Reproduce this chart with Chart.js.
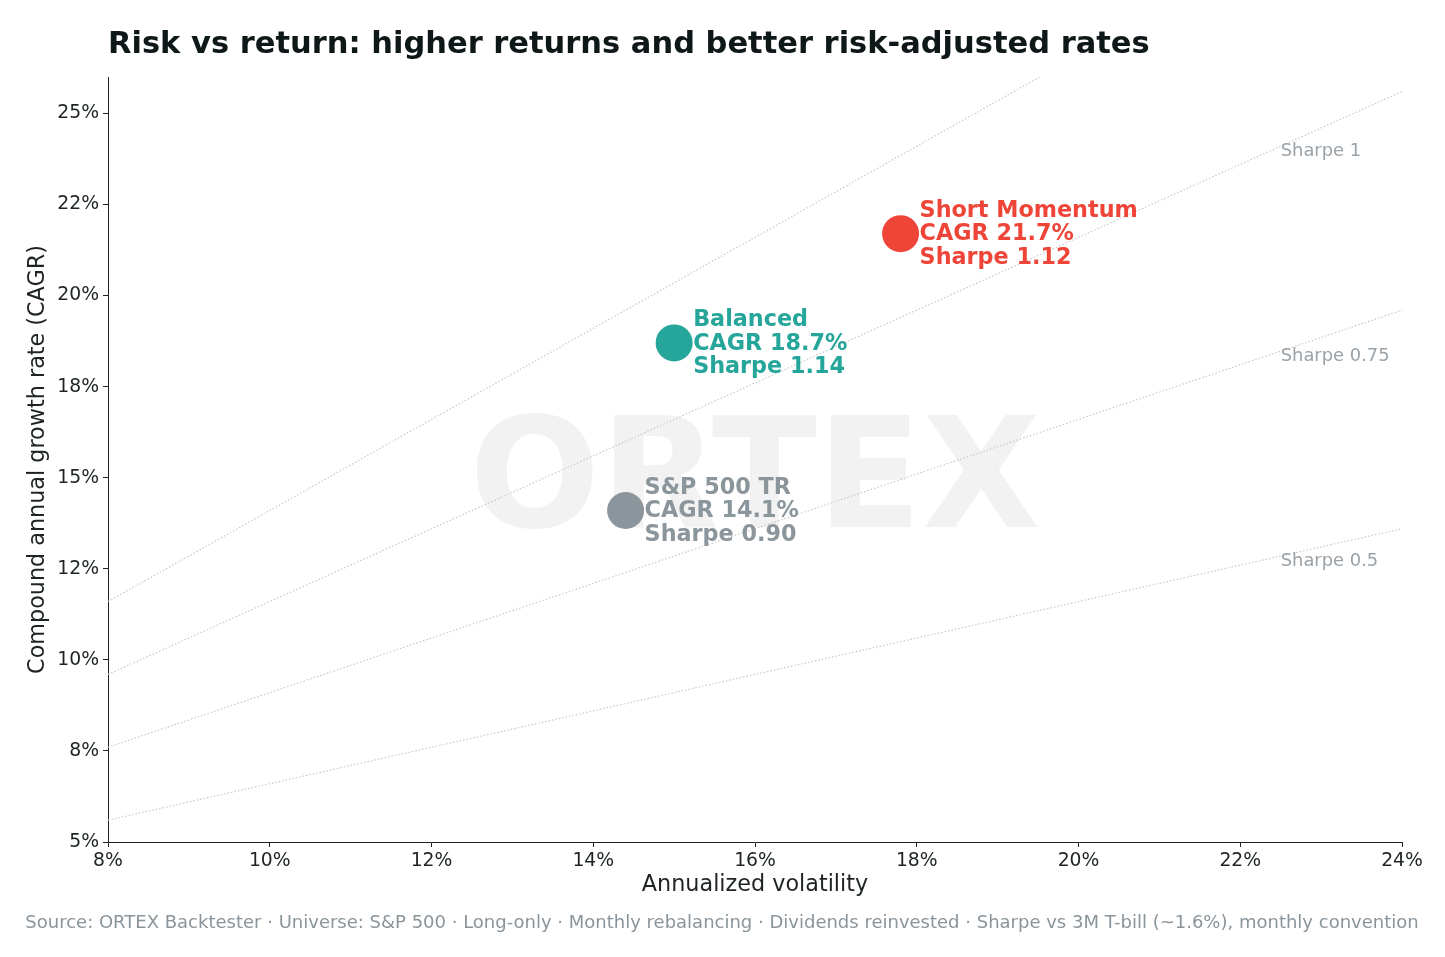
<!DOCTYPE html>
<html>
<head>
<meta charset="utf-8">
<script src="https://cdn.jsdelivr.net/npm/chart.js@4.4.1/dist/chart.umd.min.js"></script>
<style>
  body { margin: 0; background: #ffffff; }
  canvas { display: block; }
</style>
</head>
<body>
<canvas id="chart" width="1445" height="957"></canvas>
<script>
// strategies plotted in risk/return space
const strategies = ['Short Momentum', 'Balanced', 'S&P 500 TR'];
const volatility = [17.8, 15.0, 14.4];
const cagr = [21.7, 18.7, 14.1];
const sharpe = [1.12, 1.14, 0.90];
const pointColors = ['#EF4538', '#26A69A', '#8A959C'];

// iso-Sharpe reference lines: cagr = riskFree + sharpe * vol
const riskFree = 1.6;
const sharpeLevels = [0.5, 0.75, 1, 1.25];
const sharpeLabels = ['Sharpe 0.5', 'Sharpe 0.75', 'Sharpe 1', 'Sharpe 1.25'];
const sharpeLabelVol = 22.5;

const xTicks = [8, 10, 12, 14, 16, 18, 20, 22, 24];
const xTickLabels = ['8%', '10%', '12%', '14%', '16%', '18%', '20%', '22%', '24%'];
const yTicks = [5, 7.5, 10, 12.5, 15, 17.5, 20, 22.5, 25];
const yTickLabels = ['5%', '8%', '10%', '12%', '15%', '18%', '20%', '22%', '25%'];

const FONT = "'DejaVu Sans', sans-serif";
const xMin = 8, xMax = 24, yMin = 5, yMax = 26;

const datasets = [];
sharpeLevels.forEach(function (s, i) {
  datasets.push({
    label: sharpeLabels[i],
    data: [
      { x: xMin, y: riskFree + s * xMin },
      { x: xMax, y: riskFree + s * xMax }
    ],
    showLine: true,
    borderColor: '#c4c4c4',
    borderWidth: 1.1,
    borderDash: [1.5, 2],
    pointRadius: 0,
    pointHoverRadius: 0
  });
});
strategies.forEach(function (name, i) {
  datasets.push({
    label: name,
    data: [{ x: volatility[i], y: cagr[i] }],
    backgroundColor: pointColors[i],
    borderWidth: 0,
    pointRadius: 18.5,
    pointHoverRadius: 18.5
  });
});

const decorations = {
  id: 'decorations',
  beforeDatasetsDraw(chart) {
    const ctx = chart.ctx;
    const a = chart.chartArea;
    ctx.save();
    ctx.font = 'bold 154px ' + FONT;
    ctx.fillStyle = '#f1f2f1';
    ctx.textAlign = 'center';
    ctx.textBaseline = 'alphabetic';
    ctx.fillText('ORTEX', (a.left + a.right) / 2, 527);
    ctx.restore();
  },
  afterDatasetsDraw(chart) {
    const ctx = chart.ctx;
    const xs = chart.scales.x, ys = chart.scales.y;
    ctx.save();
    // sharpe line labels
    ctx.font = '17.9px ' + FONT;
    ctx.fillStyle = '#9aa2a8';
    ctx.textAlign = 'left';
    ctx.textBaseline = 'middle';
    sharpeLevels.forEach(function (s, i) {
      const yv = riskFree + s * sharpeLabelVol;
      if (yv > yMax) return;
      ctx.fillText(sharpeLabels[i], xs.getPixelForValue(sharpeLabelVol), ys.getPixelForValue(yv) + 5);
    });
    // strategy labels
    ctx.font = 'bold 22.3px ' + FONT;
    strategies.forEach(function (name, i) {
      const el = chart.getDatasetMeta(sharpeLevels.length + i).data[0];
      const lines = [name, 'CAGR ' + cagr[i].toFixed(1) + '%', 'Sharpe ' + sharpe[i].toFixed(2)];
      ctx.fillStyle = pointColors[i];
      lines.forEach(function (t, j) {
        ctx.fillText(t, el.x + 19, el.y + 1 + (j - 1) * 23.7);
      });
    });
    ctx.restore();
  },
  afterDraw(chart) {
    const ctx = chart.ctx;
    ctx.save();
    ctx.font = 'bold 30.5px ' + FONT;
    ctx.fillStyle = '#0f1819';
    ctx.textAlign = 'left';
    ctx.textBaseline = 'alphabetic';
    ctx.fillText('Risk vs return: higher returns and better risk-adjusted rates', 108, 53);
    ctx.font = '18px ' + FONT;
    ctx.fillStyle = '#8a949b';
    ctx.textAlign = 'center';
    ctx.fillText('Source: ORTEX Backtester · Universe: S&P 500 · Long-only · Monthly rebalancing · Dividends reinvested · Sharpe vs 3M T-bill (~1.6%), monthly convention', 722, 928);
    ctx.restore();
  }
};

const axisGrid = {
  display: true,
  drawOnChartArea: false,
  drawTicks: true,
  tickLength: 5,
  tickColor: '#1e2424',
  tickWidth: 1
};
const axisBorder = { display: true, color: '#1e2424', width: 1 };

new Chart(document.getElementById('chart'), {
  type: 'scatter',
  data: { datasets: datasets },
  options: {
    responsive: false,
    animation: false,
    layout: { padding: { left: 0, top: 77, right: 43, bottom: 55 } },
    plugins: {
      legend: { display: false },
      tooltip: { enabled: false },
      title: { display: false }
    },
    scales: {
      x: {
        type: 'linear',
        min: xMin,
        max: xMax,
        grid: axisGrid,
        border: axisBorder,
        afterBuildTicks: function (scale) {
          scale.ticks = xTicks.map(function (v) { return { value: v }; });
        },
        afterFit: function (scale) { scale.height = 60; },
        ticks: {
          color: '#1e2424',
          font: { family: FONT, size: 18.8 },
          padding: 3,
          maxRotation: 0,
          callback: function (v, i) { return xTickLabels[i]; }
        },
        title: {
          display: true,
          text: 'Annualized volatility',
          color: '#1e2424',
          font: { family: FONT, size: 22.3 },
          padding: { top: 0, bottom: 3 }
        }
      },
      y: {
        type: 'linear',
        min: yMin,
        max: yMax,
        grid: axisGrid,
        border: axisBorder,
        afterBuildTicks: function (scale) {
          scale.ticks = yTicks.map(function (v) { return { value: v }; });
        },
        afterFit: function (scale) { scale.width = 108; },
        ticks: {
          color: '#1e2424',
          font: { family: FONT, size: 18.8 },
          padding: 4,
          callback: function (v, i) { return yTickLabels[i]; }
        },
        title: {
          display: true,
          text: 'Compound annual growth rate (CAGR)',
          color: '#1e2424',
          font: { family: FONT, size: 22.3 },
          padding: { top: 25, bottom: 0 }
        }
      }
    }
  },
  plugins: [decorations]
});
</script>
</body>
</html>
